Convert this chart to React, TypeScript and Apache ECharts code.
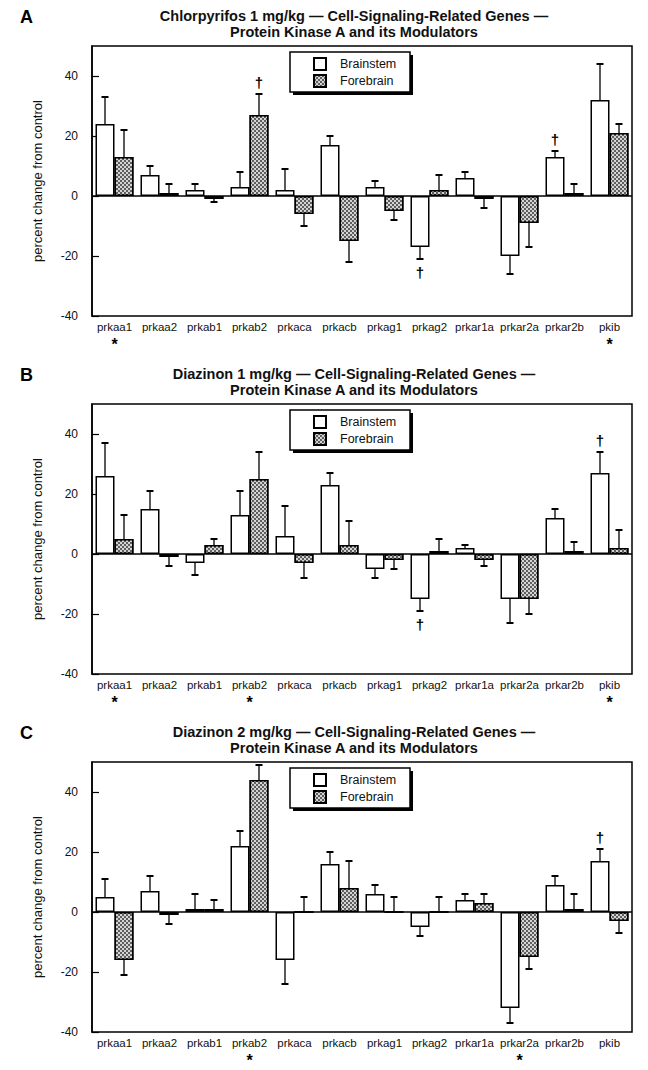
import React, { useEffect, useRef } from 'react';
import * as echarts from 'echarts';

const categories = ['prkaa1', 'prkaa2', 'prkab1', 'prkab2', 'prkaca', 'prkacb', 'prkag1', 'prkag2', 'prkar1a', 'prkar2a', 'prkar2b', 'pkib'];
const seriesNames = ['Brainstem', 'Forebrain'];
const panelLetters = ['A', 'B', 'C'];
const titleLine1 = [
  'Chlorpyrifos 1 mg/kg \u2014 Cell-Signaling-Related Genes \u2014',
  'Diazinon 1 mg/kg \u2014 Cell-Signaling-Related Genes \u2014',
  'Diazinon 2 mg/kg \u2014 Cell-Signaling-Related Genes \u2014',
];
const titleLine2 = 'Protein Kinase A and its Modulators';
const yAxisTitle = 'percent change from control';

// Panel A: Chlorpyrifos 1 mg/kg
const brainA = [24, 7, 2, 3, 2, 17, 3, -17, 6, -20, 13, 32];
const brainErrA = [33, 10, 4, 8, 9, 20, 5, -21, 8, -26, 15, 44];
const foreA = [13, 1, -1, 27, -6, -15, -5, 2, -1, -9, 1, 21];
const foreErrA = [22, 4, -2, 34, -10, -22, -8, 7, -4, -17, 4, 24];
const brainDagA = [0, 0, 0, 0, 0, 0, 0, 1, 0, 0, 1, 0];
const foreDagA = [0, 0, 0, 1, 0, 0, 0, 0, 0, 0, 0, 0];
const starsA = [1, 0, 0, 0, 0, 0, 0, 0, 0, 0, 0, 1];

// Panel B: Diazinon 1 mg/kg
const brainB = [26, 15, -3, 13, 6, 23, -5, -15, 2, -15, 12, 27];
const brainErrB = [37, 21, -7, 21, 16, 27, -8, -19, 3, -23, 15, 34];
const foreB = [5, -1, 3, 25, -3, 3, -2, 1, -2, -15, 1, 2];
const foreErrB = [13, -4, 5, 34, -8, 11, -5, 5, -4, -20, 4, 8];
const brainDagB = [0, 0, 0, 0, 0, 0, 0, 1, 0, 0, 0, 1];
const foreDagB = [0, 0, 0, 0, 0, 0, 0, 0, 0, 0, 0, 0];
const starsB = [1, 0, 0, 1, 0, 0, 0, 0, 0, 0, 0, 1];

// Panel C: Diazinon 2 mg/kg
const brainC = [5, 7, 1, 22, -16, 16, 6, -5, 4, -32, 9, 17];
const brainErrC = [11, 12, 6, 27, -24, 20, 9, -8, 6, -37, 12, 21];
const foreC = [-16, -1, 1, 44, 0, 8, 0, 0, 3, -15, 1, -3];
const foreErrC = [-21, -4, 4, 49, 5, 17, 5, 5, 6, -19, 6, -7];
const brainDagC = [0, 0, 0, 0, 0, 0, 0, 0, 0, 0, 0, 1];
const foreDagC = [0, 0, 0, 0, 0, 0, 0, 0, 0, 0, 0, 0];
const starsC = [0, 0, 0, 1, 0, 0, 0, 0, 0, 1, 0, 0];

const yMin = -40;
const yMax = 50;
const yInterval = 20;

const panels = [
  { brain: brainA, brainErr: brainErrA, fore: foreA, foreErr: foreErrA, brainDag: brainDagA, foreDag: foreDagA, stars: starsA },
  { brain: brainB, brainErr: brainErrB, fore: foreB, foreErr: foreErrB, brainDag: brainDagB, foreDag: foreDagB, stars: starsB },
  { brain: brainC, brainErr: brainErrC, fore: foreC, foreErr: foreErrC, brainDag: brainDagC, foreDag: foreDagC, stars: starsC },
];

const FONT = '"Liberation Sans", Arial, Helvetica, sans-serif';
const gridTops = [46, 404, 762];
const GRID_LEFT = 92;
const GRID_W = 540;
const GRID_H = 270;
const BAR_W = 19;

function errorSeries(gi: number, vals: number[], errs: number[], dags: number[], offset: number) {
  return {
    type: 'custom',
    xAxisIndex: gi,
    yAxisIndex: gi,
    z: 6,
    silent: true,
    data: vals.map((v, i) => [i, v, errs[i], dags[i]]),
    renderItem: (params: any, api: any) => {
      const i = api.value(0);
      const v = api.value(1);
      const e = api.value(2);
      const x = api.coord([i, 0])[0] + offset;
      const y1 = api.coord([i, v])[1];
      const y2 = api.coord([i, e])[1];
      const children: any[] = [
        { type: 'line', shape: { x1: x, y1, x2: x, y2 }, style: { stroke: '#000', lineWidth: 1.3 } },
        { type: 'line', shape: { x1: x - 3.5, y1: y2, x2: x + 3.5, y2 }, style: { stroke: '#000', lineWidth: 2 } },
      ];
      if (api.value(3)) {
        const up = e >= v;
        children.push({
          type: 'text',
          x,
          y: y2 + (up ? -12 : 13),
          style: { text: '\u2020', textAlign: 'center', textVerticalAlign: 'middle', font: `bold 15px ${FONT}`, fill: '#000' },
        });
      }
      return { type: 'group', children };
    },
  };
}

const forebrainDecal = {
  symbol: 'rect',
  symbolSize: 1,
  color: '#d4d4d4',
  dashArrayX: [[2, 2], [0, 2, 2, 0]],
  dashArrayY: [2, 0],
  rotation: 0,
};

export default function App() {
  const ref = useRef<HTMLDivElement>(null);

  useEffect(() => {
    if (!ref.current) return;
    const chart = echarts.init(ref.current, undefined, { renderer: 'svg' });

    const grids: any[] = [];
    const xAxes: any[] = [];
    const yAxes: any[] = [];
    const series: any[] = [];
    const legends: any[] = [];
    const graphics: any[] = [];

    panels.forEach((p, gi) => {
      const top = gridTops[gi];
      grids.push({ left: GRID_LEFT, top, width: GRID_W, height: GRID_H, show: true, borderColor: '#000', borderWidth: 1.5, backgroundColor: 'transparent' });
      xAxes.push({
        type: 'category',
        gridIndex: gi,
        data: categories,
        axisLine: { show: false, onZero: false },
        axisTick: { show: false },
        splitLine: { show: false },
        axisLabel: {
          interval: 0,
          margin: 4,
          fontSize: 11.5,
          fontFamily: FONT,
          color: '#111',
          lineHeight: 13,
          formatter: (v: string, idx: number) => (p.stars[idx] ? `${v}\n{s|*}` : v),
          rich: { s: { fontSize: 16, fontWeight: 'bold', fontFamily: FONT, color: '#000', lineHeight: 16, padding: [6, 0, 0, 0] } },
        },
      });
      yAxes.push({
        type: 'value',
        gridIndex: gi,
        min: yMin,
        max: yMax,
        interval: yInterval,
        name: yAxisTitle,
        nameLocation: 'middle',
        nameGap: 48,
        nameTextStyle: { fontSize: 13, fontFamily: FONT, color: '#111' },
        axisLine: { show: true, lineStyle: { color: '#000', width: 1.5 } },
        axisTick: { show: true, inside: true, length: 7, lineStyle: { color: '#000', width: 1.2 } },
        splitLine: { show: false },
        axisLabel: { showMaxLabel: false, fontSize: 12, fontFamily: FONT, color: '#111', margin: 14 },
      });
      series.push({
        name: seriesNames[0],
        type: 'bar',
        xAxisIndex: gi,
        yAxisIndex: gi,
        data: p.brain,
        barWidth: BAR_W,
        barGap: '0%',
        itemStyle: { color: '#fff', borderColor: '#000', borderWidth: 1.5 },
        markLine: {
          silent: true,
          symbol: ['none', 'none'],
          label: { show: false },
          lineStyle: { color: '#000', type: 'solid', width: 1.5 },
          data: [{ yAxis: 0 }],
        },
      });
      series.push({
        name: seriesNames[1],
        type: 'bar',
        xAxisIndex: gi,
        yAxisIndex: gi,
        data: p.fore,
        barWidth: BAR_W,
        barGap: '0%',
        itemStyle: { color: '#5e5e5e', borderColor: '#000', borderWidth: 1.5, decal: forebrainDecal },
      });
      series.push(errorSeries(gi, p.brain, p.brainErr, p.brainDag, -BAR_W / 2));
      series.push(errorSeries(gi, p.fore, p.foreErr, p.foreDag, BAR_W / 2));

      const lt = top + 6;
      legends.push({
        data: seriesNames,
        orient: 'vertical',
        left: 313,
        top: lt + 5,
        padding: 0,
        itemGap: 3,
        itemWidth: 12,
        itemHeight: 12,
        icon: 'rect',
        z: 10,
        selectedMode: false,
        textStyle: { fontSize: 12.5, fontFamily: FONT, color: '#111', padding: [0, 0, 0, 9] },
      });
      graphics.push({ type: 'rect', z: 1, shape: { x: 293, y: lt + 3, width: 120, height: 40 }, style: { fill: '#000' } });
      graphics.push({ type: 'rect', z: 2, shape: { x: 290, y: lt, width: 120, height: 40 }, style: { fill: '#fff', stroke: '#000', lineWidth: 1.5 } });

      const ty = top - 29;
      graphics.push({ type: 'text', z: 3, x: 20, y: ty, style: { text: panelLetters[gi], textVerticalAlign: 'middle', font: `bold 18px ${FONT}`, fill: '#000' } });
      graphics.push({
        type: 'text',
        z: 3,
        x: 354,
        y: ty + 7,
        style: {
          text: `${titleLine1[gi]}\n${titleLine2}`,
          textAlign: 'center',
          textVerticalAlign: 'middle',
          font: `bold 14.5px ${FONT}`,
          lineHeight: 16,
          fill: '#111',
        },
      });
    });

    chart.setOption({
      animation: false,
      backgroundColor: '#fff',
      grid: grids,
      xAxis: xAxes,
      yAxis: yAxes,
      legend: legends,
      series,
      graphic: { elements: graphics },
    });

    return () => chart.dispose();
  }, []);

  return <div ref={ref} style={{ position: 'absolute', left: 0, top: 0, width: 648, height: 1070 }} />;
}
